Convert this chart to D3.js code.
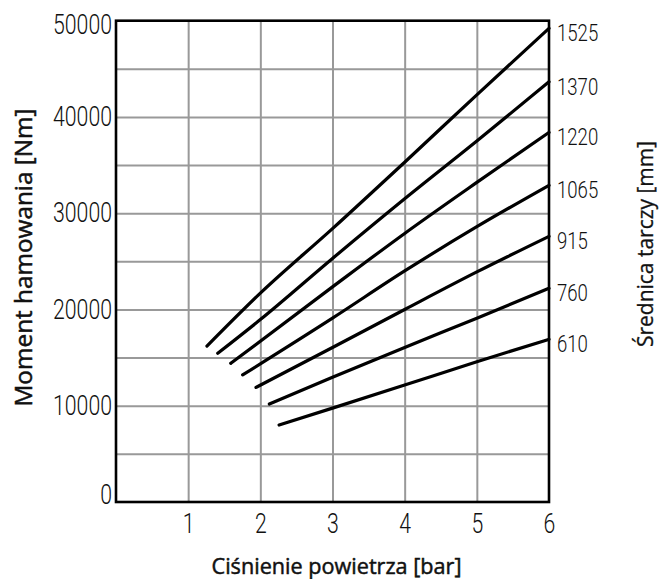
<!DOCTYPE html>
<html>
<head>
<meta charset="utf-8">
<script src="https://cdn.jsdelivr.net/npm/d3@7"></script>
<style>
  body { margin: 0; background: #fff; }
</style>
</head>
<body>
<div id="chart"></div>
<script>
// Chart data
var pressureTicks = [1, 2, 3, 4, 5, 6];
var torqueTicks = [0, 10000, 20000, 30000, 40000, 50000];
var gridX = [1, 2, 3, 4, 5];
var gridY = [5000, 10000, 15000, 20000, 25000, 30000, 35000, 40000, 45000];
var diameters = ["1525", "1370", "1220", "1065", "915", "760", "610"];

// [pressure bar, torque Nm]
var curve1525 = [[1.26, 16200], [2, 21700], [3, 28400], [4, 35300], [5, 42300], [6, 49200]];
var curve1370 = [[1.41, 15450], [2, 18950], [3, 25300], [4, 31500], [5, 37500], [6, 43650]];
var curve1220 = [[1.59, 14400], [3, 22350], [4, 27900], [5, 33200], [6, 38400]];
var curve1065 = [[1.755, 13200], [3, 19100], [4, 24000], [5, 28600], [6, 32900]];
var curve915 = [[1.94, 11900], [3, 16050], [4, 20000], [5, 23900], [6, 27600]];
var curve760 = [[2.125, 10180], [3, 12950], [4, 16050], [5, 19100], [6, 22200]];
var curve610 = [[2.26, 8000], [3, 9750], [4, 12150], [5, 14575], [6, 16900]];
var curves = [curve1525, curve1370, curve1220, curve1065, curve915, curve760, curve610];

// Set size of chart
var svgWidth = 663;
var svgHeight = 579;
var margin = { top: 20.7, right: 114, bottom: 77, left: 116 };
var width = svgWidth - margin.left - margin.right;
var height = svgHeight - margin.top - margin.bottom;

var svg = d3.select("#chart")
  .append("svg")
  .attr("width", svgWidth)
  .attr("height", svgHeight);

var chartGroup = svg.append("g")
  .attr("transform", `translate(${margin.left}, ${margin.top})`);

// Scales
var xScale = d3.scaleLinear().domain([0, 6]).range([0, width]);
var yScale = d3.scaleLinear().domain([0, 50000]).range([height, 0]);

var tickFont = "Roboto, 'DejaVu Sans Condensed', sans-serif";
var titleFont = "'Open Sans', 'Noto Sans', sans-serif";
var digitWidth = 11.8;

// Gridlines
chartGroup.append("g")
  .attr("class", "grid")
  .call(d3.axisLeft(yScale).tickValues(gridY).tickSize(-width).tickFormat(""))
  .call(g => g.select(".domain").remove())
  .selectAll("line")
  .attr("stroke", "#999")
  .attr("stroke-width", 2);

chartGroup.append("g")
  .attr("class", "grid")
  .attr("transform", `translate(0, ${height})`)
  .call(d3.axisBottom(xScale).tickValues(gridX).tickSize(-height).tickFormat(""))
  .call(g => g.select(".domain").remove())
  .selectAll("line")
  .attr("stroke", "#999")
  .attr("stroke-width", 2);

// Frame
chartGroup.append("rect")
  .attr("x", 0)
  .attr("y", 0)
  .attr("width", width)
  .attr("height", height)
  .attr("fill", "none")
  .attr("stroke", "#000")
  .attr("stroke-width", 2.6);

// Tick labels
var leftAxis = chartGroup.append("g")
  .call(d3.axisLeft(yScale).tickValues(torqueTicks).tickSize(0).tickPadding(4).tickFormat(d3.format("d")));
leftAxis.select(".domain").remove();
leftAxis.selectAll("text")
  .attr("y", d => d === 0 ? -7 : (d === 50000 ? 4 : 0))
  .attr("fill", "#111")
  .attr("textLength", d => String(d).length * digitWidth)
  .attr("lengthAdjust", "spacingAndGlyphs")
  .style("font-family", tickFont)
  .style("font-weight", 300)
  .style("font-size", "27px");

var bottomAxis = chartGroup.append("g")
  .attr("transform", `translate(0, ${height})`)
  .call(d3.axisBottom(xScale).tickValues(pressureTicks).tickSize(0).tickFormat(d3.format("d")));
bottomAxis.select(".domain").remove();
bottomAxis.selectAll("text")
  .attr("y", 31)
  .attr("dy", 0)
  .attr("fill", "#111")
  .attr("textLength", digitWidth)
  .attr("lengthAdjust", "spacingAndGlyphs")
  .style("font-family", tickFont)
  .style("font-weight", 300)
  .style("font-size", "27px");

// Curves
var line = d3.line()
  .x(d => xScale(d[0]))
  .y(d => yScale(d[1]))
  .curve(d3.curveMonotoneX);

chartGroup.selectAll(".curve")
  .data(curves)
  .enter()
  .append("path")
  .attr("class", "curve")
  .attr("d", line)
  .attr("fill", "none")
  .attr("stroke", "#000")
  .attr("stroke-width", 3.2)
  .attr("stroke-linecap", "round");

// Diameter labels at the line ends
chartGroup.selectAll(".dia")
  .data(curves)
  .enter()
  .append("text")
  .attr("class", "dia")
  .attr("x", d => xScale(d[d.length - 1][0]) + 8)
  .attr("y", d => yScale(d[d.length - 1][1]) + 5)
  .attr("dy", "0.35em")
  .attr("fill", "#111")
  .attr("textLength", (d, i) => diameters[i].length * 10.3)
  .attr("lengthAdjust", "spacingAndGlyphs")
  .style("font-family", tickFont)
  .style("font-weight", 300)
  .style("font-size", "23px")
  .text((d, i) => diameters[i]);

// Axis titles
svg.append("text")
  .attr("transform", "translate(32, 257.5) rotate(-90)")
  .attr("text-anchor", "middle")
  .attr("textLength", 298)
  .attr("lengthAdjust", "spacingAndGlyphs")
  .attr("fill", "#111")
  .attr("stroke", "#111")
  .attr("stroke-width", 0.5)
  .style("font-family", titleFont)
  .style("font-size", "23px")
  .text("Moment hamowania [Nm]");

svg.append("text")
  .attr("x", 336.5)
  .attr("y", 574)
  .attr("text-anchor", "middle")
  .attr("textLength", 250)
  .attr("lengthAdjust", "spacingAndGlyphs")
  .attr("fill", "#111")
  .attr("stroke", "#111")
  .attr("stroke-width", 0.5)
  .style("font-family", titleFont)
  .style("font-size", "22px")
  .text("Ciśnienie powietrza [bar]");

svg.append("text")
  .attr("transform", "translate(653, 244) rotate(-90)")
  .attr("text-anchor", "middle")
  .attr("textLength", 206)
  .attr("lengthAdjust", "spacingAndGlyphs")
  .attr("fill", "#111")
  .attr("stroke", "#111")
  .attr("stroke-width", 0.3)
  .style("font-family", titleFont)
  .style("font-size", "21px")
  .text("Średnica tarczy [mm]");
</script>
</body>
</html>
